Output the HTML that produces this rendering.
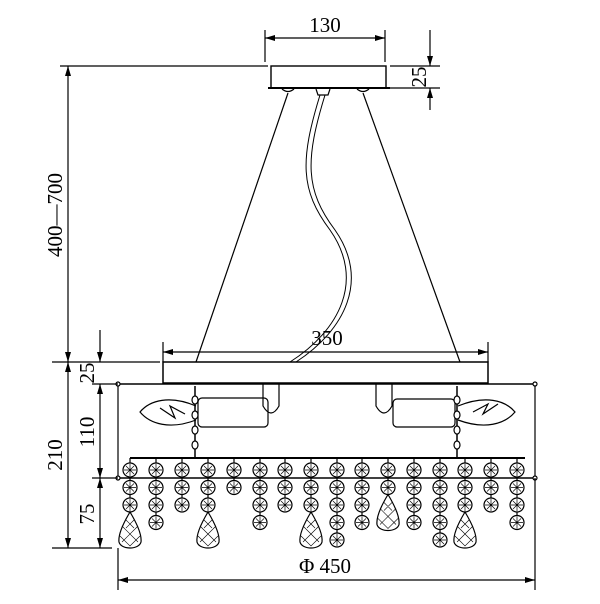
<!DOCTYPE html>
<html><head><meta charset="utf-8"><style>
html,body{margin:0;padding:0;background:#fff;width:600px;height:604px;overflow:hidden}
svg{display:block}
text{font-family:"Liberation Serif",serif;font-weight:normal;fill:#000}
</style></head><body>
<svg id="s" width="600" height="604" viewBox="0 0 600 604" xmlns="http://www.w3.org/2000/svg" stroke="#000" fill="none" stroke-width="1.2">
<defs>
<marker id="a" viewBox="0 0 10 6" refX="10" refY="3" markerWidth="10" markerHeight="6" orient="auto-start-reverse" markerUnits="userSpaceOnUse"><path d="M0,0L10,3L0,6z" fill="#000" stroke="none"/></marker>
</defs>
<rect x="271" y="66" width="115" height="22" stroke-width="1.4"/>
<line x1="268" y1="88" x2="390" y2="88" stroke-width="2"/>
<path d="M282,89 q6,5 12,0 M316,89 l2,6 h10 l2,-6 M357,89 q6,5 12,0"/>
<line x1="288" y1="93" x2="196" y2="362"/>
<line x1="363" y1="93" x2="460" y2="362"/>
<path d="M320,95 C300,160 300,190 330,230 C365,280 340,330 290,362" stroke-width="1"/>
<path d="M325,95 C305,160 305,190 335,230 C370,280 345,330 296,362" stroke-width="1"/>
<rect x="163" y="362" width="325" height="21" stroke-width="1.5"/>
<line x1="118" y1="384" x2="535" y2="384" stroke-width="1.5"/>
<line x1="118" y1="478" x2="535" y2="478" stroke-width="1.5"/>
<line x1="118" y1="384" x2="118" y2="478"/>
<line x1="535" y1="384" x2="535" y2="478"/>
<circle cx="118" cy="384" r="2" fill="#fff"/><circle cx="535" cy="384" r="2" fill="#fff"/>
<circle cx="118" cy="478" r="2" fill="#fff"/><circle cx="535" cy="478" r="2" fill="#fff"/>
<line x1="130" y1="458" x2="525" y2="458" stroke-width="2"/>
<path d="M263,384 v22 q8,14 16,0 v-22"/>
<rect x="198" y="398" width="70" height="29" rx="4"/>
<path d="M196,406 C170,395 150,400 140,412 C150,424 170,430 196,420"/>
<path d="M160,408 l15,10 l-5,-12 l15,8"/>
<path d="M392,384 v22 q-8,14 -16,0 v-22"/>
<rect x="393" y="399" width="62" height="28" rx="4"/>
<path d="M458,406 C485,395 505,400 515,412 C505,424 485,430 458,420"/>
<path d="M498,404 l-15,10 l5,-10 l-15,8"/>
<g id="g"></g>
<line x1="265" y1="30" x2="265" y2="62"/><line x1="385" y1="30" x2="385" y2="62"/>
<line x1="265" y1="38" x2="385" y2="38" marker-start="url(#a)" marker-end="url(#a)"/>
<text x="325" y="32" font-size="21" text-anchor="middle" stroke="none">130</text>
<line x1="390" y1="66" x2="440" y2="66"/><line x1="390" y1="88" x2="440" y2="88"/>
<line x1="430" y1="30" x2="430" y2="66" marker-end="url(#a)"/><line x1="430" y1="110" x2="430" y2="88" marker-end="url(#a)"/>
<text transform="translate(426,77) rotate(-90)" font-size="21" text-anchor="middle" stroke="none">25</text>
<line x1="60" y1="66" x2="268" y2="66"/>
<line x1="68" y1="66" x2="68" y2="362" marker-start="url(#a)" marker-end="url(#a)"/>
<text transform="translate(62,215) rotate(-90)" font-size="21" text-anchor="middle" stroke="none">400—700</text>
<line x1="52" y1="362" x2="160" y2="362"/>
<line x1="68" y1="362" x2="68" y2="548" marker-start="url(#a)" marker-end="url(#a)"/>
<text transform="translate(62,455) rotate(-90)" font-size="21" text-anchor="middle" stroke="none">210</text>
<line x1="100" y1="330" x2="100" y2="362" marker-end="url(#a)"/>
<line x1="100" y1="384" x2="100" y2="478" marker-start="url(#a)" marker-end="url(#a)"/>
<line x1="100" y1="478" x2="100" y2="548" marker-start="url(#a)" marker-end="url(#a)"/>
<line x1="92" y1="384" x2="118" y2="384"/><line x1="92" y1="478" x2="118" y2="478"/>
<line x1="52" y1="548" x2="112" y2="548"/>
<text transform="translate(94,373) rotate(-90)" font-size="21" text-anchor="middle" stroke="none">25</text>
<text transform="translate(94,432) rotate(-90)" font-size="21" text-anchor="middle" stroke="none">110</text>
<text transform="translate(94,514) rotate(-90)" font-size="21" text-anchor="middle" stroke="none">75</text>
<line x1="163" y1="342" x2="163" y2="362"/><line x1="488" y1="342" x2="488" y2="362"/>
<line x1="163" y1="352" x2="488" y2="352" marker-start="url(#a)" marker-end="url(#a)"/>
<text x="327" y="345" font-size="21" text-anchor="middle" stroke="none">350</text>
<line x1="118" y1="548" x2="118" y2="590"/><line x1="535" y1="478" x2="535" y2="590"/>
<line x1="118" y1="580" x2="535" y2="580" marker-start="url(#a)" marker-end="url(#a)"/>
<text x="325" y="573" font-size="21" text-anchor="middle" stroke="none">Φ 450</text>
</svg>
<script>
var g=document.getElementById('g'),h='';
var xs=[130,156,182,208,234,260,285,311,337,362,388,414,440,465,491,517];
var c=[[3,1],[4,0],[3,0],[3,1],[2,0],[4,0],[3,0],[3,1],[5,0],[4,0],[2,1],[4,0],[5,0],[3,1],[3,0],[4,0]];
xs.forEach(function(x,i){var n=c[i][0];
h+='<line x1="'+x+'" y1="458" x2="'+x+'" y2="'+(470+17.5*(n-1)+(c[i][1]?8:0))+'"/>';
for(var k=0;k<n;k++){var yy=470+17.5*k;h+='<circle cx="'+x+'" cy="'+yy+'" r="7" fill="#fff"/><path d="M'+(x-6)+','+yy+'h12M'+x+','+(yy-6)+'v12M'+(x-4)+','+(yy-4)+'l8,8M'+(x+4)+','+(yy-4)+'l-8,8" stroke-width="0.7"/>';}
if(c[i][1]){var t=470+17.5*(n-1)+7;h+='<path d="M'+x+','+t+' C'+(x-6)+','+(t+10)+' '+(x-12)+','+(t+22)+' '+(x-11)+','+(t+30)+' C'+(x-9)+','+(t+38)+' '+(x+9)+','+(t+38)+' '+(x+11)+','+(t+30)+' C'+(x+12)+','+(t+22)+' '+(x+6)+','+(t+10)+' '+x+','+t+'Z" fill="#fff"/><path d="M'+(x-8)+','+(t+14)+'l16,16M'+(x+8)+','+(t+14)+'l-16,16M'+(x-10)+','+(t+24)+'l10,10l10,-10M'+(x-4)+','+(t+8)+'l8,8M'+(x+4)+','+(t+8)+'l-8,8" stroke-width="0.6"/>';}
});
[195,457].forEach(function(x){h+='<line x1="'+x+'" y1="386" x2="'+x+'" y2="458" stroke-width="1.5"/>';[400,415,430,445].forEach(function(y){h+='<ellipse cx="'+x+'" cy="'+y+'" rx="3" ry="4" fill="#fff"/>';});});
g.innerHTML=h;
</script>
</body></html>
